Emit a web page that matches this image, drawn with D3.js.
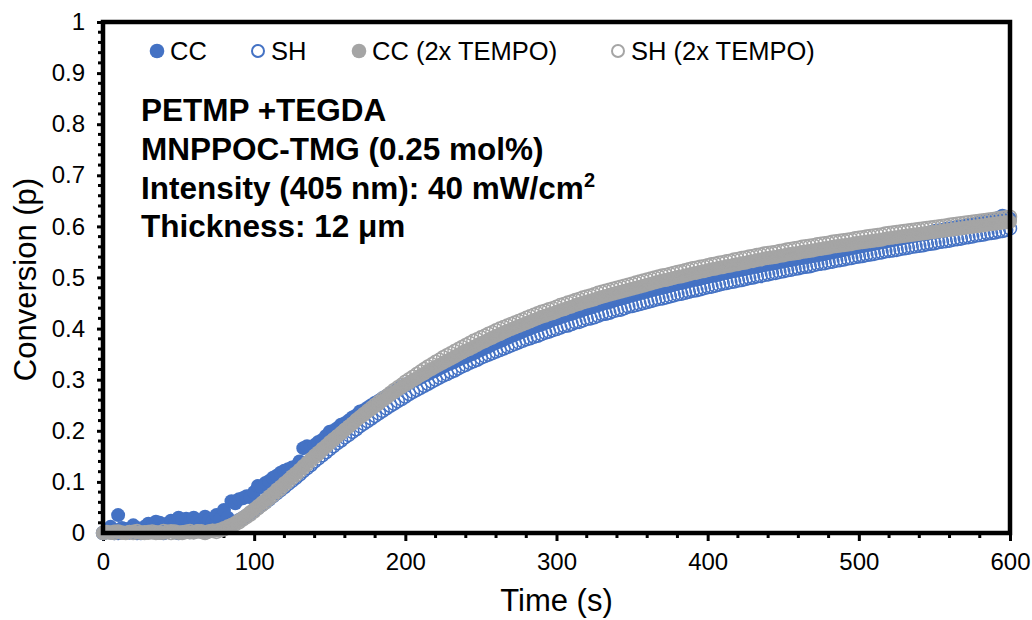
<!DOCTYPE html>
<html><head><meta charset="utf-8">
<script src="https://cdn.jsdelivr.net/npm/d3@7"></script>
<style>body{margin:0;background:#fff}svg{display:block}text{font-family:"Liberation Sans",Arial,sans-serif}</style>
</head><body><svg id="c" width="1032" height="620"></svg>
<script>
const time = d3.range(0, 600.001, 2.5);
const xTicks = [0,100,200,300,400,500,600];
const yTicks = [0,0.1,0.2,0.3,0.4,0.5,0.6,0.7,0.8,0.9,1];
const seriesNames = ["CC","SH","CC (2x TEMPO)","SH (2x TEMPO)"];
const cc = [
0.000,0.005,0.012,0.006,0.035,0.010,0.008,0.004,0.015,0.010,0.004,0.012,0.018,0.014,0.022,0.020,0.012,0.018,0.024,0.016,
0.030,0.026,0.028,0.022,0.030,0.024,0.020,0.032,0.026,0.022,0.035,0.028,0.045,0.030,0.062,0.058,0.066,0.068,0.072,0.070,
0.080,0.092,0.090,0.098,0.102,0.108,0.112,0.118,0.122,0.125,0.128,0.130,0.140,0.166,0.170,0.168,0.172,0.178,0.182,0.190,
0.198,0.200,0.205,0.212,0.215,0.220,0.226,0.230,0.238,0.240,0.245,0.250,0.255,0.259,0.264,0.268,0.272,0.277,0.282,0.286,
0.290,0.294,0.298,0.301,0.304,0.308,0.311,0.315,0.318,0.322,0.325,0.329,0.332,0.335,0.339,0.342,0.345,0.348,0.351,0.355,
0.358,0.362,0.365,0.369,0.372,0.375,0.378,0.382,0.385,0.388,0.391,0.394,0.397,0.400,0.403,0.406,0.408,0.411,0.414,0.417,
0.419,0.422,0.424,0.427,0.429,0.432,0.434,0.437,0.439,0.441,0.444,0.446,0.448,0.450,0.452,0.455,0.457,0.459,0.461,0.463,
0.465,0.467,0.469,0.471,0.473,0.475,0.477,0.479,0.480,0.482,0.484,0.486,0.488,0.489,0.491,0.493,0.495,0.496,0.498,0.500,
0.501,0.503,0.504,0.506,0.508,0.509,0.511,0.512,0.514,0.515,0.517,0.518,0.520,0.521,0.523,0.524,0.526,0.527,0.528,0.530,
0.531,0.533,0.534,0.535,0.537,0.538,0.539,0.541,0.542,0.543,0.545,0.546,0.548,0.549,0.551,0.552,0.554,0.555,0.557,0.558,
0.560,0.561,0.563,0.564,0.566,0.567,0.569,0.570,0.572,0.573,0.575,0.576,0.578,0.579,0.581,0.582,0.584,0.585,0.587,0.588,
0.591,0.592,0.593,0.595,0.596,0.597,0.599,0.600,0.601,0.603,0.604,0.606,0.607,0.609,0.610,0.612,0.614,0.617,0.621,0.619,
0.615];
const sh = [
0.000,0.002,0.003,0.000,0.000,0.004,0.005,0.001,0.002,0.000,0.000,0.003,0.004,0.002,0.006,0.001,0.000,0.003,0.005,0.002,
0.000,0.003,0.005,0.002,0.002,0.006,0.006,0.003,0.004,0.007,0.008,0.010,0.012,0.015,0.018,0.021,0.025,0.029,0.034,0.039,
0.044,0.049,0.055,0.060,0.066,0.072,0.078,0.084,0.090,0.096,0.102,0.108,0.114,0.121,0.127,0.133,0.140,0.146,0.152,0.158,
0.164,0.170,0.176,0.181,0.187,0.192,0.198,0.203,0.209,0.214,0.219,0.224,0.229,0.234,0.239,0.244,0.249,0.253,0.258,0.262,
0.267,0.272,0.276,0.280,0.284,0.288,0.292,0.296,0.300,0.304,0.308,0.311,0.315,0.318,0.322,0.326,0.329,0.333,0.336,0.339,
0.343,0.346,0.349,0.352,0.355,0.358,0.361,0.364,0.367,0.370,0.373,0.376,0.379,0.381,0.384,0.386,0.389,0.392,0.394,0.397,
0.399,0.402,0.405,0.406,0.409,0.412,0.413,0.416,0.419,0.420,0.422,0.425,0.428,0.429,0.431,0.434,0.436,0.437,0.440,0.443,
0.444,0.446,0.448,0.450,0.452,0.454,0.456,0.458,0.459,0.461,0.463,0.465,0.467,0.468,0.470,0.472,0.474,0.475,0.477,0.479,
0.481,0.482,0.484,0.486,0.488,0.489,0.491,0.492,0.494,0.495,0.497,0.499,0.500,0.502,0.503,0.505,0.506,0.508,0.509,0.511,
0.512,0.514,0.515,0.517,0.518,0.520,0.521,0.522,0.524,0.526,0.527,0.528,0.530,0.531,0.533,0.534,0.535,0.537,0.538,0.540,
0.541,0.542,0.544,0.545,0.546,0.548,0.549,0.551,0.552,0.553,0.554,0.556,0.557,0.558,0.560,0.561,0.562,0.563,0.565,0.566,
0.567,0.569,0.570,0.571,0.572,0.574,0.575,0.576,0.578,0.579,0.580,0.582,0.583,0.584,0.586,0.587,0.588,0.590,0.591,0.593,
0.596];
const cc2x = [
0.000,0.001,0.000,0.003,0.002,0.000,0.000,0.002,0.003,0.001,0.000,0.002,0.000,0.001,0.002,0.000,0.000,0.003,0.004,0.001,
0.000,0.002,0.003,0.001,0.002,0.004,0.004,0.002,0.003,0.005,0.005,0.007,0.010,0.013,0.016,0.020,0.025,0.030,0.035,0.041,
0.047,0.053,0.059,0.065,0.072,0.078,0.085,0.091,0.098,0.104,0.111,0.117,0.124,0.131,0.138,0.145,0.152,0.158,0.165,0.171,
0.178,0.184,0.190,0.196,0.202,0.208,0.214,0.220,0.226,0.231,0.237,0.242,0.248,0.253,0.259,0.264,0.270,0.275,0.280,0.285,
0.290,0.294,0.299,0.303,0.308,0.312,0.317,0.321,0.325,0.329,0.333,0.337,0.341,0.345,0.349,0.353,0.357,0.360,0.364,0.368,
0.372,0.375,0.379,0.382,0.386,0.389,0.393,0.396,0.399,0.402,0.405,0.408,0.411,0.414,0.417,0.420,0.423,0.425,0.428,0.430,
0.433,0.436,0.438,0.441,0.443,0.446,0.448,0.451,0.453,0.455,0.457,0.460,0.462,0.464,0.466,0.468,0.470,0.472,0.474,0.476,
0.478,0.480,0.482,0.484,0.486,0.488,0.490,0.492,0.494,0.495,0.497,0.499,0.501,0.502,0.504,0.506,0.508,0.509,0.511,0.512,
0.514,0.516,0.517,0.519,0.520,0.522,0.523,0.525,0.526,0.528,0.529,0.531,0.532,0.534,0.535,0.537,0.538,0.539,0.540,0.542,
0.543,0.545,0.546,0.547,0.548,0.550,0.551,0.552,0.553,0.555,0.556,0.557,0.558,0.560,0.561,0.562,0.563,0.564,0.565,0.567,
0.568,0.569,0.570,0.571,0.572,0.573,0.574,0.576,0.577,0.578,0.579,0.580,0.581,0.582,0.583,0.584,0.585,0.586,0.587,0.588,
0.589,0.590,0.591,0.592,0.593,0.594,0.595,0.596,0.597,0.598,0.599,0.600,0.601,0.602,0.603,0.604,0.605,0.606,0.607,0.608,
0.609];
const sh2x = [
0.000,0.002,0.001,0.000,0.003,0.001,0.000,0.002,0.000,0.004,0.001,0.000,0.002,0.003,0.000,0.001,0.004,0.002,0.000,0.003,
0.001,0.000,0.002,0.004,0.001,0.003,0.002,0.000,0.003,0.004,0.002,0.005,0.007,0.010,0.013,0.017,0.021,0.026,0.031,0.036,
0.042,0.048,0.054,0.060,0.067,0.073,0.080,0.086,0.093,0.100,0.107,0.113,0.120,0.127,0.134,0.141,0.148,0.155,0.162,0.169,
0.176,0.182,0.189,0.195,0.202,0.208,0.214,0.221,0.227,0.233,0.239,0.245,0.251,0.257,0.263,0.268,0.274,0.280,0.285,0.290,
0.296,0.301,0.306,0.311,0.316,0.321,0.326,0.330,0.335,0.339,0.344,0.348,0.352,0.356,0.360,0.364,0.368,0.372,0.376,0.379,
0.383,0.386,0.390,0.393,0.397,0.400,0.403,0.406,0.409,0.412,0.415,0.418,0.421,0.424,0.427,0.430,0.433,0.435,0.438,0.440,
0.443,0.446,0.448,0.451,0.453,0.456,0.458,0.461,0.463,0.465,0.467,0.470,0.472,0.474,0.476,0.478,0.480,0.482,0.484,0.486,
0.488,0.490,0.492,0.494,0.496,0.498,0.500,0.502,0.504,0.505,0.507,0.509,0.511,0.512,0.514,0.516,0.518,0.519,0.521,0.522,
0.524,0.526,0.527,0.529,0.530,0.532,0.533,0.535,0.536,0.538,0.539,0.541,0.542,0.544,0.545,0.547,0.548,0.549,0.550,0.552,
0.553,0.555,0.556,0.557,0.558,0.560,0.561,0.562,0.563,0.565,0.566,0.567,0.568,0.570,0.571,0.572,0.573,0.574,0.575,0.577,
0.578,0.579,0.580,0.581,0.582,0.583,0.584,0.586,0.587,0.588,0.589,0.590,0.591,0.592,0.593,0.594,0.595,0.596,0.597,0.598,
0.599,0.600,0.601,0.602,0.603,0.604,0.605,0.606,0.607,0.608,0.609,0.610,0.611,0.612,0.613,0.614,0.615,0.616,0.617,0.618,
0.619];

const BLUE="#4472C4", GRAY="#A5A5A5";
const styles=[{fill:BLUE,stroke:BLUE,open:false},{fill:"none",stroke:BLUE,open:true},{fill:GRAY,stroke:GRAY,open:false},{fill:"none",stroke:GRAY,open:true}];
const allSeries=[cc,sh,cc2x,sh2x];

const svg=d3.select("#c");
const L=103,R=1010,T=22,B=533;
const x=d3.scaleLinear().domain([0,600]).range([L,R]);
const y=d3.scaleLinear().domain([0,1]).range([B,T]);

// minor ticks
const xMinor=d3.range(0,601,20).filter(v=>v%100!==0);
svg.append("g").selectAll("line").data(xMinor).join("line")
 .attr("x1",d=>x(d)).attr("x2",d=>x(d)).attr("y1",B).attr("y2",B+5).attr("stroke","#000").attr("stroke-width",3);
const yMinor=d3.range(0,51,1).map(v=>v/50).filter((v,i)=>i%5!==0);
svg.append("g").selectAll("line").data(yMinor).join("line")
 .attr("x1",L-5).attr("x2",L).attr("y1",d=>y(d)).attr("y2",d=>y(d)).attr("stroke","#000").attr("stroke-width",3);

// axes
const xAxis=svg.append("g").attr("transform",`translate(0,${B})`)
 .call(d3.axisBottom(x).tickValues(xTicks).tickSize(8).tickPadding(12).tickFormat(d3.format("d")));
const yAxis=svg.append("g").attr("transform",`translate(${L},0)`)
 .call(d3.axisLeft(y).tickValues(yTicks).tickSize(6).tickPadding(12).tickFormat(d=>d===0?"0":d===1?"1":d3.format(".1f")(d)));
[xAxis,yAxis].forEach(g=>{g.select(".domain").remove();g.selectAll("line").attr("stroke","#000").attr("stroke-width",3);
 g.selectAll("text").attr("font-size",24).attr("fill","#000").style("font-family","Liberation Sans, Arial, sans-serif");});

// data
allSeries.forEach((s,i)=>{
 const st=styles[i];
 svg.append("g").selectAll("circle").data(s.map((v,j)=>[time[j],v])).join("circle")
  .attr("cx",d=>x(d[0])).attr("cy",d=>y(d[1])).attr("r",st.open?6.5:7)
  .attr("fill",st.fill).attr("stroke",st.stroke).attr("stroke-width",st.open?1.5:0);
});

// frame
svg.append("rect").attr("x",L).attr("y",T).attr("width",R-L).attr("height",B-T)
 .attr("fill","none").attr("stroke","#000").attr("stroke-width",4.5);

// legend
const legX=[157,258,359,618];
seriesNames.forEach((n,i)=>{
 const st=styles[i];
 svg.append("circle").attr("cx",legX[i]).attr("cy",51).attr("r",st.open?6:7.3)
  .attr("fill",st.fill).attr("stroke",st.stroke).attr("stroke-width",st.open?2:0);
 svg.append("text").attr("x",legX[i]+13).attr("y",60).attr("font-size",25.5).attr("fill","#000").text(n);
});

// annotation
const ann=svg.append("g").attr("font-size",31.5).attr("font-weight","bold").attr("fill","#000");
ann.append("text").attr("x",141).attr("y",121).text("PETMP +TEGDA");
ann.append("text").attr("x",141).attr("y",160).text("MNPPOC-TMG (0.25 mol%)");
const t3=ann.append("text").attr("x",141).attr("y",199).text("Intensity (405 nm): 40 mW/cm");
t3.append("tspan").attr("font-size",20).attr("dy",-12).text("2");
ann.append("text").attr("x",141).attr("y",237).text("Thickness: 12 μm");

// axis titles
svg.append("text").attr("x",(L+R)/2).attr("y",611).attr("text-anchor","middle").attr("font-size",31).text("Time (s)");
svg.append("text").attr("transform",`translate(36,${(T+B)/2+2}) rotate(-90)`).attr("text-anchor","middle").attr("font-size",31).text("Conversion (p)");
</script></body></html>
